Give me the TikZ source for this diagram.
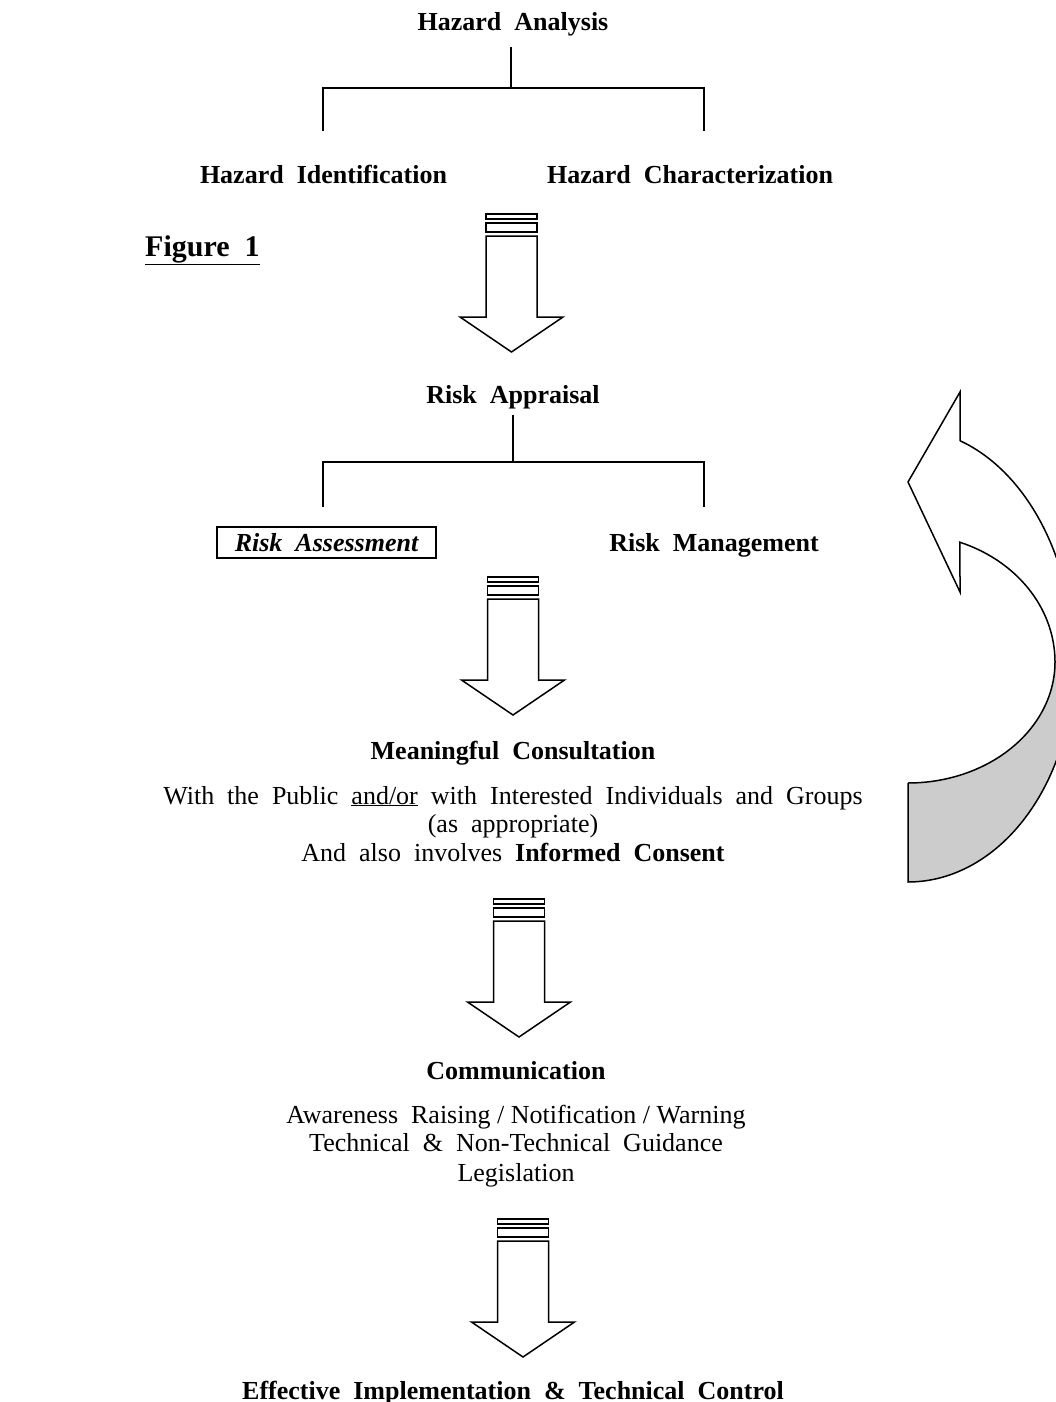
\documentclass[tikz,border=0pt]{standalone}
\usepackage{fontspec}
\setmainfont{Liberation Serif}
\newcommand\mytxtfont{\fontsize{26}{29}\selectfont\setlength{\spaceskip}{.5em}}
\newcommand\myboldfont{\fontsize{26}{29}\selectfont\bfseries\setlength{\spaceskip}{.5em}}
\newcommand\myitfont{\fontsize{26}{29}\selectfont\bfseries\itshape\setlength{\spaceskip}{.5em}}
\newcommand\nsp{\hspace{.25em}}
\begin{document}
\begin{tikzpicture}[x=1pt,y=-1pt,
  txt/.style={anchor=base,inner sep=0pt,font=\mytxtfont},
  btxt/.style={anchor=base,inner sep=0pt,font=\myboldfont},
  itxt/.style={anchor=base,inner sep=0pt,font=\myitfont},
  tree/.style={line width=1.5pt},
  shp/.style={line width=1.5pt,line join=miter,draw=black,fill=white},
  blockarrow/.pic={
    \draw[shp] (-25.5,0) rectangle (25.5,5);
    \draw[shp] (-25.5,9) rectangle (25.5,18);
    \draw[shp] (-25.5,22) -- (-25.5,103) -- (-51.5,103) -- (0,138) -- (51.5,103) -- (25.5,103) -- (25.5,22) -- cycle;
  }]
\useasboundingbox (0,0) rectangle (1056,1402);
\fill[white] (0,0) rectangle (1056,1402);

% ---- Hazard analysis tree
\node[btxt] (ha) at (513,31) {Hazard Analysis};
\node[btxt] (hi) at (323.5,183) {Hazard Identification};
\node[btxt] (hc) at (690,183) {Hazard Characterization};
\coordinate (t1) at (511,47);
\coordinate (t1m) at (511,88);
\coordinate (t1l) at (323,88);
\coordinate (t1r) at (704,88);
\coordinate (t1lb) at (323,131);
\coordinate (t1rb) at (704,131);
\draw[tree] (t1) -- (t1m);
\draw[tree] (t1lb) -- (t1l) -- (t1r) -- (t1rb);

\pic at (511.5,214) {blockarrow};

\node[anchor=base west,inner sep=0pt,font=\fontsize{30}{34}\selectfont\bfseries] (fig) at (145,256) {\underline{Figure\hspace{.5em}1}};

% ---- Risk appraisal tree
\node[btxt] (ra) at (513,403) {Risk Appraisal};
\coordinate (t2) at (513,415);
\coordinate (t2m) at (513,462);
\coordinate (t2l) at (323,462);
\coordinate (t2r) at (704,462);
\coordinate (t2lb) at (323,507);
\coordinate (t2rb) at (704,507);
\draw[tree] (t2) -- (t2m);
\draw[tree] (t2lb) -- (t2l) -- (t2r) -- (t2rb);
\draw[line width=1.5pt] (217,527) rectangle (436,558);
\node[itxt] (rass) at (326.5,551) {Risk Assessment};
\node[btxt] (rman) at (714,551) {Risk Management};

\pic at (513,577) {blockarrow};

% ---- Consultation
\node[btxt] (mc) at (513,759) {Meaningful Consultation};
\node[txt] (mc1) at (513,804) {With the Public \underline{and/or} with Interested Individuals and Groups};
\node[txt] (mc2) at (513,832) {(as appropriate)};
\node[txt] (mc3) at (513,861) {And also involves \textbf{Informed Consent}};

\pic at (519,899) {blockarrow};

% ---- Communication
\node[btxt] (com) at (516,1079) {Communication};
\node[txt] (com1) at (516,1123) {Awareness Raising\nsp/\nsp Notification\nsp/\nsp Warning};
\node[txt] (com2) at (516,1151) {Technical \& Non-Technical Guidance};
\node[txt] (com3) at (516,1181) {Legislation};

\pic at (523,1219) {blockarrow};

\node[btxt] (eff) at (513,1399) {Effective Implementation \& Technical Control};

% ---- curved feedback arrow
\begin{scope}
\clip (0,0) rectangle (1056,1402);
\fill[black!20] plot[domain=0:-90,samples=60] ({908+166*cos(\x)},{662-220*sin(\x)})
  -- (908,783) -- plot[domain=-90:0,samples=60] ({908+147*cos(\x)},{662-121*sin(\x)}) -- cycle;
\fill[white] (960,441) -- plot[domain=71.7:0,samples=60] ({908+166*cos(\x)},{662-233*sin(\x)})
  -- (1055,662) -- plot[domain=0:69.3,samples=60] ({908+147*cos(\x)},{662-128*sin(\x)})
  -- (960,592) -- (908,482) -- (960,392) -- cycle;
\draw[line width=1.5pt] plot[domain=71.7:0,samples=60] ({908+166*cos(\x)},{662-233*sin(\x)})
  -- plot[domain=0:-90,samples=60] ({908+166*cos(\x)},{662-220*sin(\x)}) -- (908,783);
\draw[line width=1.5pt,line join=miter] plot[domain=-90:0,samples=60] ({908+147*cos(\x)},{662-121*sin(\x)})
  -- plot[domain=0:69.3,samples=60] ({908+147*cos(\x)},{662-128*sin(\x)})
  -- (960,592) -- (908,482) -- (960,392) -- (960,441);
\end{scope}
\end{tikzpicture}
\end{document}
